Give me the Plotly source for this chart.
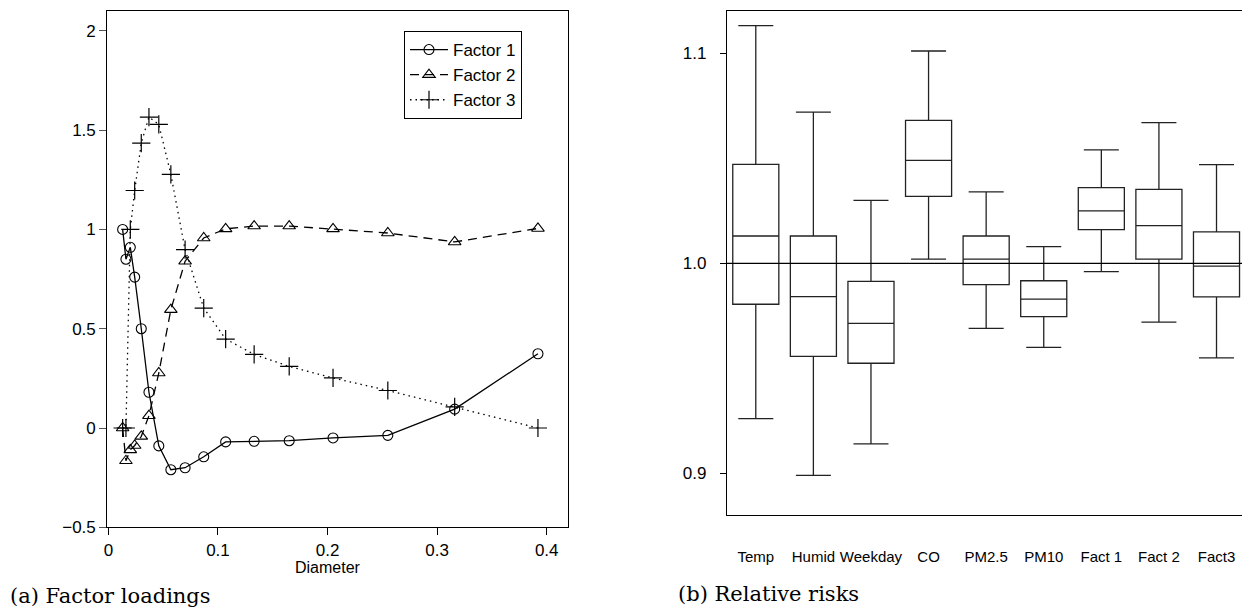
import plotly.graph_objects as go

# ---- Panel (a): factor loadings ----
diameter = [0.013, 0.016, 0.020, 0.024, 0.030, 0.037, 0.046, 0.057, 0.070,
            0.087, 0.107, 0.133, 0.165, 0.205, 0.255, 0.316, 0.392]
factor1 = [1.00, 0.85, 0.91, 0.76, 0.50, 0.18, -0.09, -0.21, -0.20,
           -0.145, -0.07, -0.067, -0.064, -0.05, -0.037, 0.095, 0.374]
factor2 = [0.00, -0.165, -0.11, -0.088, -0.042, 0.062, 0.277, 0.596, 0.84,
           0.957, 1.003, 1.017, 1.017, 1.003, 0.982, 0.937, 1.005]
factor3 = [0.00, 0.00, 1.00, 1.196, 1.435, 1.566, 1.529, 1.277, 0.898,
           0.604, 0.448, 0.371, 0.310, 0.252, 0.189, 0.106, 0.00]

# ---- Panel (b): relative risks ----
variables = ["Temp", "Humid", "Weekday", "CO", "PM2.5", "PM10", "Fact 1", "Fact 2", "Fact3"]
rr_lower = [0.926, 0.899, 0.914, 1.002, 0.969, 0.960, 0.996, 0.972, 0.955]
rr_q1 = [0.9805, 0.9557, 0.9524, 1.0319, 0.9898, 0.9746, 1.016, 1.002, 0.984]
rr_median = [1.013, 0.9841, 0.9714, 1.049, 1.002, 0.9829, 1.025, 1.0179, 0.9987]
rr_q3 = [1.0471, 1.013, 0.9914, 1.0681, 1.013, 0.9917, 1.036, 1.0352, 1.015]
rr_upper = [1.1132, 1.072, 1.030, 1.1011, 1.034, 1.0079, 1.054, 1.067, 1.047]

# The page body has an 8px margin; the figure is sized so it fits the window.
OFF = 8
W, H = 1250 - OFF, 610 - OFF
def px_x(p):
    return (p - OFF) / W
def px_y(p):
    return 1 - (p - OFF) / H

sans = "Liberation Sans, Arial, sans-serif"
serif = "DejaVu Serif, serif"

fig = go.Figure()

fig.add_trace(go.Scatter(
    x=diameter, y=factor1, name="Factor 1", mode="lines+markers",
    line=dict(color="black", width=1.3),
    marker=dict(symbol="circle-open", size=10, color="black", line=dict(width=1.1)),
    xaxis="x", yaxis="y"))
fig.add_trace(go.Scatter(
    x=diameter, y=factor2, name="Factor 2", mode="lines+markers",
    line=dict(color="black", width=1.3, dash="9px,6px"),
    marker=dict(symbol="triangle-up-open", size=11, color="black", line=dict(width=1.1)),
    xaxis="x", yaxis="y"))
fig.add_trace(go.Scatter(
    x=diameter, y=factor3, name="Factor 3", mode="lines+markers",
    line=dict(color="black", width=1.3, dash="1.5px,4px"),
    marker=dict(symbol="cross-thin-open", size=13, color="black", line=dict(width=1.2)),
    xaxis="x", yaxis="y"))

for i, v in enumerate(variables):
    fig.add_trace(go.Box(
        x=[v], q1=[rr_q1[i]], median=[rr_median[i]], q3=[rr_q3[i]],
        lowerfence=[rr_lower[i]], upperfence=[rr_upper[i]],
        width=0.8, whiskerwidth=0.76, fillcolor="white",
        line=dict(color="#222222", width=1.3), showlegend=False,
        boxpoints=False, xaxis="x2", yaxis="y2"))

fig.update_layout(
    width=W, height=H,
    margin=dict(l=0, r=0, t=0, b=0),
    paper_bgcolor="white", plot_bgcolor="white",
    font=dict(family=sans, color="black", size=16),
    xaxis=dict(domain=[px_x(107.3), px_x(568.3)], range=[-0.001, 0.4197], anchor="y",
               tickvals=[0, 0.1, 0.2, 0.3, 0.4], ticktext=["0", "0.1", "0.2", "0.3", "0.4"],
               ticks="outside", ticklen=7, tickcolor="black", showline=True, linecolor="black",
               linewidth=1.2, mirror=True, showgrid=False, zeroline=False,
               tickfont=dict(size=17), automargin=False),
    yaxis=dict(domain=[px_y(527.3), px_y(11)], range=[-0.5, 2.1], anchor="x",
               tickvals=[-0.5, 0, 0.5, 1, 1.5, 2], ticktext=["\u22120.5", "0", "0.5", "1", "1.5", "2"],
               ticks="outside", ticklen=7, tickcolor="#555555", showline=True, linecolor="black",
               linewidth=1.2, mirror=True, showgrid=False, zeroline=False,
               tickfont=dict(size=17), automargin=False),
    xaxis2=dict(domain=[px_x(727), px_x(1245.3)], range=[-0.5, 8.5], type="category", anchor="y2",
                categoryorder="array", categoryarray=variables,
                ticks="", showline=True, linecolor="black", linewidth=1.2, mirror=True,
                showgrid=False, zeroline=False, tickfont=dict(size=15),
                ticklabelstandoff=28, automargin=False),
    yaxis2=dict(domain=[px_y(515.3), px_y(11.3)], range=[0.88, 1.12], anchor="x2",
                tickvals=[0.9, 1.0, 1.1], ticktext=["0.9", "1.0", "1.1"],
                ticks="outside", ticklen=6, tickcolor="black", showline=True, linecolor="black",
                linewidth=1.2, mirror=True, showgrid=False, zeroline=False,
                tickfont=dict(size=17), ticklabelstandoff=10, automargin=False),
    legend=dict(x=px_x(404), y=px_y(31), xanchor="left", yanchor="top",
                bordercolor="black", borderwidth=1, bgcolor="white",
                font=dict(size=17, family=sans), tracegroupgap=0,
                itemwidth=38),
    showlegend=True,
)

fig.add_shape(type="line", xref="x2 domain", yref="y2", x0=0, x1=1, y0=1.0, y1=1.0,
              line=dict(color="black", width=1.2), layer="above")

fig.add_annotation(text="Diameter", x=px_x(328), y=px_y(567), xref="paper", yref="paper",
                   xanchor="center", yanchor="middle", showarrow=False,
                   font=dict(size=16, family=sans))
fig.add_annotation(text="(a) Factor loadings", x=0, y=px_y(596), xref="paper", yref="paper",
                   xanchor="left", yanchor="middle", showarrow=False,
                   font=dict(size=21, family=serif))
fig.add_annotation(text="(b) Relative risks", x=px_x(676), y=px_y(594), xref="paper", yref="paper",
                   xanchor="left", yanchor="middle", showarrow=False,
                   font=dict(size=21, family=serif))

fig.write_html("out.html")
